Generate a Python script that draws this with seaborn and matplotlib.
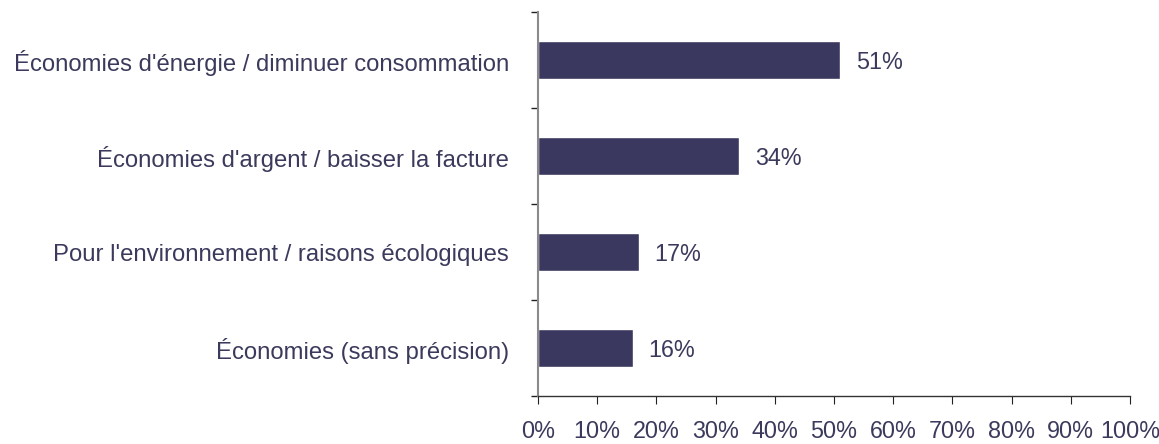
import matplotlib
matplotlib.use("Agg")
import matplotlib.pyplot as plt
import seaborn as sns
import pandas as pd
import numpy as np

categories = [
    "Économies d'énergie / diminuer consommation",
    "Économies d'argent / baisser la facture",
    "Pour l'environnement / raisons écologiques",
    "Économies (sans précision)",
]
values = [51, 34, 17, 16]
x_ticks = [0, 10, 20, 30, 40, 50, 60, 70, 80, 90, 100]

bar_color = "#3a385e"
text_color = "#3b3a5c"
label_size = 17.2
tick_size = 16.8

sns.set_theme(style="white")
plt.rcParams["font.family"] = ["Liberation Sans", "DejaVu Sans"]

df = pd.DataFrame({"cat": categories, "val": values})

fig = plt.figure(figsize=(11.59, 4.44), dpi=100)
ax = fig.add_axes([538 / 1159, 1 - 396 / 444, (1130 - 538) / 1159, (396 - 12) / 444])

sns.barplot(data=df, y="cat", x="val", orient="h", color=bar_color,
            saturation=1, width=0.4, ax=ax)

ax.set_xlim(0, 100)
ax.set_ylim(3.5, -0.5)
ax.set_xlabel("")
ax.set_ylabel("")

ax.set_xticks(x_ticks)
ax.set_xticklabels([f"{t}%" for t in x_ticks], fontsize=tick_size, color=text_color)
ax.tick_params(axis="x", direction="out", length=6, width=0.8, color="#222222",
               pad=11, bottom=True)

ax.set_yticks(range(len(categories)))
ax.set_yticklabels(categories, fontsize=label_size, color=text_color)
ax.tick_params(axis="y", which="major", length=0, pad=21, left=False)
ax.set_yticks(np.arange(-0.5, len(categories), 1.0), minor=True)
ax.tick_params(axis="y", which="minor", direction="out", length=5, width=1,
               color="#222222", left=True)

for side in ("top", "right"):
    ax.spines[side].set_visible(False)
ax.spines["left"].set_color("#8a8a8a")
ax.spines["left"].set_linewidth(1.5)
ax.spines["bottom"].set_color("#333333")
ax.spines["bottom"].set_linewidth(1)

for i, v in enumerate(values):
    ax.text(v + 2.7, i, f"{v}%", va="center_baseline", ha="left",
            fontsize=tick_size, color=text_color)

fig.savefig("out.png", dpi=100, facecolor="white")
